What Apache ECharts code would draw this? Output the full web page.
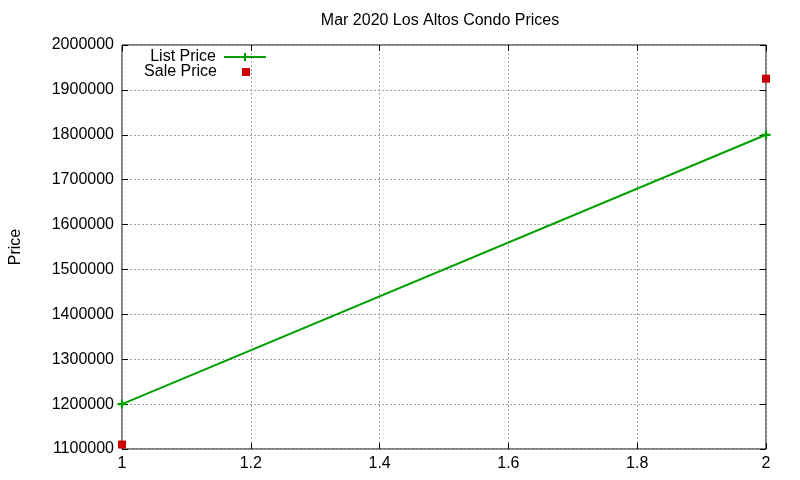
<!DOCTYPE html>
<html>
<head>
<meta charset="utf-8">
<script src="https://cdn.jsdelivr.net/npm/echarts@6/dist/echarts.min.js"></script>
<style>html,body{margin:0;padding:0;background:#fff;}#c{width:800px;height:480px;}</style>
</head>
<body>
<div id="c"></div>
<script>
const xValues = [1, 2];
const listPrice = [1200000, 1800000];
const salePrice = [1110000, 1925000];
const titleText = 'Mar 2020 Los Altos Condo Prices';
const yName = 'Price';

const FONT = 'Liberation Sans, Arial, sans-serif';
const FS = 16;
const plus = 'path://M0,3L3,3L3,0L5,0L5,3L8,3L8,5L5,5L5,8L3,8L3,5L0,5Z';
const gridLine = { show: true, lineStyle: { color: '#a0a0a0', type: [2, 2], width: 1 } };
const tick = { show: true, inside: true, length: 6, lineStyle: { color: '#000', width: 1 } };

const chart = echarts.init(document.getElementById('c'));
chart.setOption({
  animation: false,
  backgroundColor: '#fff',
  title: {
    text: titleText, left: 440, top: 13, textAlign: 'center', padding: 0,
    textStyle: { fontFamily: FONT, fontSize: FS, fontWeight: 'normal', color: '#000' }
  },
  legend: [
    {
      data: ['List Price'], orient: 'vertical', align: 'right', right: 533, top: 49, padding: 0,
      itemWidth: 42, itemHeight: 10, itemGap: 0,
      textStyle: { fontFamily: FONT, fontSize: FS, color: '#000', padding: [0, 3, 0, 0] }
    },
    {
      data: ['Sale Price'], orient: 'vertical', align: 'right', right: 550, top: 64, padding: 0,
      itemWidth: 8, itemHeight: 8, itemGap: 0,
      textStyle: { fontFamily: FONT, fontSize: FS, color: '#000', padding: [0, 20, 0, 0] }
    }
  ],
  grid: { left: 118, right: 34, top: 45, bottom: 31, show: true, borderColor: '#000', borderWidth: 1, backgroundColor: 'transparent' },
  xAxis: [
    {
      type: 'value', min: 1, max: 2, interval: 0.2, position: 'bottom',
      axisLine: { show: false }, axisTick: tick, splitLine: gridLine,
      axisLabel: { margin: 7, fontFamily: FONT, fontSize: FS, color: '#000' }
    },
    {
      type: 'value', min: 1, max: 2, interval: 0.2, position: 'top',
      axisLine: { show: false }, axisTick: tick, splitLine: { show: false }, axisLabel: { show: false }
    }
  ],
  yAxis: [
    {
      type: 'value', min: 1100000, max: 2000000, interval: 100000, position: 'left',
      name: yName, nameLocation: 'middle', nameGap: 98, nameRotate: 90,
      nameTextStyle: { fontFamily: FONT, fontSize: FS, color: '#000' },
      axisLine: { show: false }, axisTick: tick, splitLine: gridLine,
      axisLabel: { margin: 8, fontFamily: FONT, fontSize: FS, color: '#000', formatter: v => String(v) }
    },
    {
      type: 'value', min: 1100000, max: 2000000, interval: 100000, position: 'right',
      axisLine: { show: false }, axisTick: tick, splitLine: { show: false }, axisLabel: { show: false }
    }
  ],
  series: [
    {
      name: 'List Price', type: 'line', clip: false,
      data: xValues.map((x, i) => [x, listPrice[i]]),
      symbol: plus, symbolSize: 9, showSymbol: true,
      lineStyle: { color: '#00a000', width: 2 },
      itemStyle: { color: '#00a000' }
    },
    {
      name: 'Sale Price', type: 'scatter', clip: false,
      data: xValues.map((x, i) => [x, salePrice[i]]),
      symbol: 'rect', symbolSize: 8,
      itemStyle: { color: '#cc0000', opacity: 1 }
    }
  ]
});
</script>
</body>
</html>
